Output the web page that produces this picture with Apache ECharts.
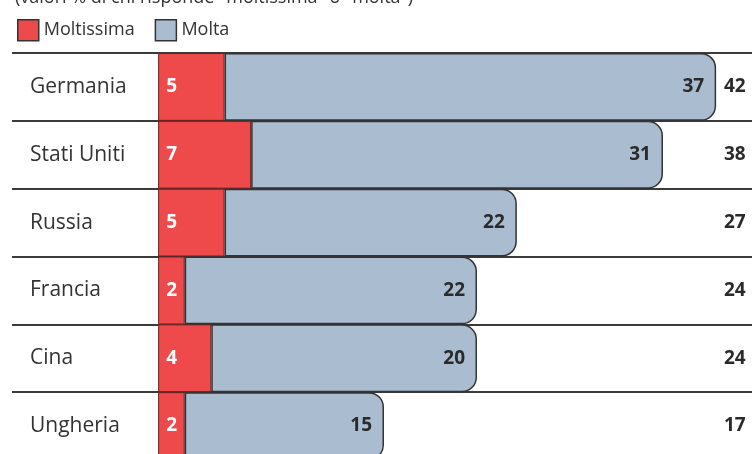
<!DOCTYPE html>
<html>
<head>
<meta charset="utf-8">
<script src="https://cdn.jsdelivr.net/npm/echarts@6/dist/echarts.min.js"></script>
<style>
  html, body { margin: 0; padding: 0; background: #fff; }
  #main { width: 752px; height: 454px; }
</style>
</head>
<body>
<div id="main"></div>
<script>
// dati
var paesi = ['Germania', 'Stati Uniti', 'Russia', 'Francia', 'Cina', 'Ungheria']
var moltissima = [5, 7, 5, 2, 4, 2]
var molta = [37, 31, 22, 22, 20, 15]
var totali = ['42', '38', '27', '24', '24', '17']

var chart = echarts.init(document.getElementById('main'))
var font = '"Open Sans", "Noto Sans", sans-serif'

var option = {
  animation: false,
  title: {
    text: '(valori % di chi risponde "moltissima" o "molta")',
    left: 10,
    top: -16,
    textStyle: { fontFamily: font, fontSize: 18, fontWeight: 'normal', color: '#333' }
  },
  legend: {
    left: 12,
    top: 14,
    icon: 'rect',
    itemWidth: 21,
    itemHeight: 21,
    itemGap: 20,
    textStyle: { fontFamily: font, fontSize: 18, color: '#333' },
    data: [
      { name: 'Moltissima', itemStyle: { borderColor: '#333', borderWidth: 1.5 } },
      { name: 'Molta', itemStyle: { borderColor: '#333', borderWidth: 1.5, borderRadius: 0 } }
    ]
  },
  grid: { left: 12, right: 0, top: 53, height: 407, outerBoundsMode: 'none' },
  xAxis: { type: 'value', min: -11, max: 44.7, show: false },
  yAxis: [
    {
      type: 'category',
      data: paesi,
      inverse: true,
      axisLine: { show: false },
      axisTick: { show: false },
      splitLine: { show: true, lineStyle: { color: '#3a3a3a', width: 2 } },
      axisLabel: {
        inside: true,
        margin: 18,
        align: 'left',
        fontFamily: font,
        fontSize: 21,
        color: '#333'
      }
    },
    {
      type: 'category',
      data: totali,
      inverse: true,
      position: 'right',
      axisLine: { show: false },
      axisTick: { show: false },
      splitLine: { show: false },
      axisLabel: {
        inside: true,
        margin: 28,
        align: 'left',
        fontFamily: font,
        fontSize: 19,
        fontWeight: 'bold',
        color: '#2a2a2a'
      }
    }
  ],
  series: [
    {
      name: 'Moltissima',
      type: 'bar',
      stack: 'tot',
      data: moltissima,
      barWidth: '100%',
      itemStyle: { color: '#ee4a4b', borderColor: '#6b2020', borderWidth: 1 },
      label: {
        show: true,
        position: 'insideLeft',
        distance: 8,
        fontFamily: font,
        fontSize: 19,
        fontWeight: 'bold',
        color: '#fff'
      }
    },
    {
      name: 'Molta',
      type: 'bar',
      stack: 'tot',
      data: molta,
      barWidth: '100%',
      itemStyle: { color: '#aabdd0', borderColor: '#333', borderWidth: 1.5, borderRadius: [0, 14, 14, 0] },
      label: {
        show: true,
        position: 'insideRight',
        distance: 12,
        fontFamily: font,
        fontSize: 19,
        fontWeight: 'bold',
        color: '#2a2a2a'
      }
    }
  ]
}

chart.setOption(option)
</script>
</body>
</html>
